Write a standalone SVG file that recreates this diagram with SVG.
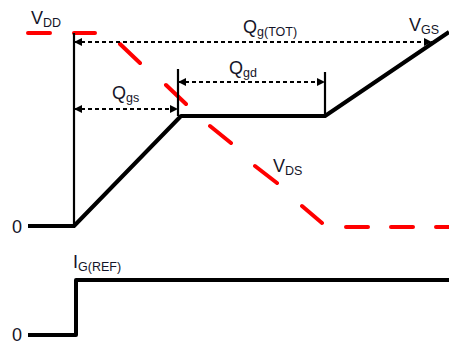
<svg xmlns="http://www.w3.org/2000/svg" width="449" height="345" viewBox="0 0 449 345">
<style>
.lbl{font-family:"Liberation Sans",Arial,sans-serif;font-size:18px;fill:#141428}
.sub{font-size:12.5px}
.vds{fill:none;stroke:#ff0000;stroke-width:4;stroke-linecap:round}
.wave{fill:none;stroke:#000;stroke-width:4;stroke-linejoin:round}
.thin{fill:none;stroke:#000;stroke-width:2.2}
.dim{fill:none;stroke:#000;stroke-width:2;stroke-dasharray:4 3;marker-start:url(#ah);marker-end:url(#ah)}
</style>
<defs>
<marker id="ah" viewBox="0 0 10 10" refX="10" refY="5" markerWidth="10" markerHeight="8" markerUnits="userSpaceOnUse" orient="auto-start-reverse">
<path d="M0,0 L10,5 L0,10 Z" fill="#000"/>
</marker>
</defs>
<rect width="449" height="345" fill="#fff"/>
<g id="vds-curve">
<path class="vds" d="M28,33H50 M74,33H95 M120,44L140,63 M166,85L186,104 M210,126L231,143 M255,166L277,183 M302,206L322,223 M346,227H368 M391,227H413 M436,227H449"/>
</g>
<g id="axes">
<line class="thin" x1="74" y1="33" x2="74" y2="226" stroke-width="2.5"/>
<line class="thin" x1="178" y1="69" x2="178" y2="116"/>
<line class="thin" x1="325" y1="72" x2="325" y2="116"/>
</g>
<g id="vgs-curve">
<path class="wave" d="M28,226H74L181,116H325L449,32"/>
</g>
<g id="ig-curve">
<path class="wave" d="M28,335H76V280H449"/>
</g>
<g id="connectors">
<line class="dim" x1="74" y1="42" x2="432" y2="42"/>
<line class="dim" x1="74" y1="109" x2="178" y2="109"/>
<line class="dim" x1="178" y1="82" x2="325" y2="82"/>
</g>
<g id="labels">
<text class="lbl" x="31" y="24">V<tspan class="sub" dy="3">DD</tspan></text>
<text class="lbl" x="243" y="33">Q<tspan class="sub" dy="3">g(TOT)</tspan></text>
<text class="lbl" x="409" y="31">V<tspan class="sub" dy="3">GS</tspan></text>
<text class="lbl" x="112" y="99">Q<tspan class="sub" dy="3">gs</tspan></text>
<text class="lbl" x="229" y="74">Q<tspan class="sub" dy="3">gd</tspan></text>
<text class="lbl" x="273" y="172">V<tspan class="sub" dy="3">DS</tspan></text>
<text class="lbl" x="12" y="233">0</text>
<text class="lbl" x="12" y="341">0</text>
<text class="lbl" x="73" y="268">I<tspan class="sub" dy="3">G(REF)</tspan></text>
</g>
</svg>
